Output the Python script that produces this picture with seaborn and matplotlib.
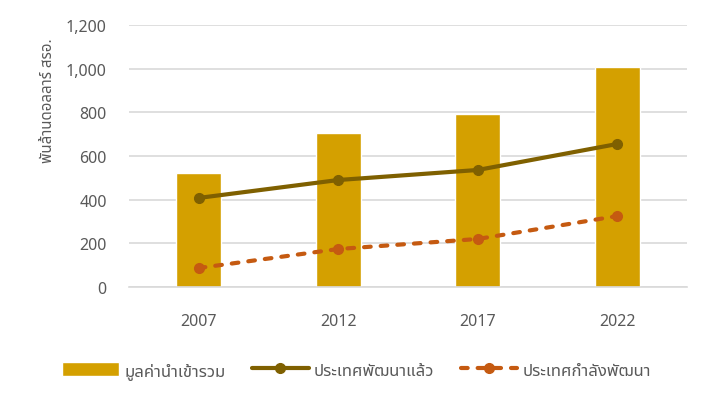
import numpy as np
import matplotlib
matplotlib.use("Agg")
import matplotlib.pyplot as plt
from matplotlib import font_manager
from matplotlib.ft2font import FT2Font
from matplotlib.patches import Patch
from matplotlib.lines import Line2D
import seaborn as sns

# data
years = ["2007", "2012", "2017", "2022"]
total_imports = [522, 705, 792, 1008]
developed = [408, 490, 536, 655]
developing = [87, 174, 220, 325]

label_total = "มูลค่านำเข้ารวม"
label_dev = "ประเทศพัฒนาแล้ว"
label_devg = "ประเทศกำลังพัฒนา"
y_label = "พันล้านดอลลาร์ สรอ."

BAR = "#D4A000"
DEV = "#7F6000"
DEVG = "#C55A11"
GRID = "#D9D9D9"
TXT = "#595959"
DASH = (0, (1.6, 2.4))


def find_thai_font():
    found = []
    for f in font_manager.fontManager.ttflist:
        try:
            cmap = FT2Font(f.fname).get_charmap()
        except Exception:
            continue
        if 0x0E21 in cmap and 0x0E33 in cmap:
            found.append(f.name)
    for pref in ["Noto Sans Thai", "Noto Sans", "DejaVu Sans", "Liberation Sans"]:
        if pref in found:
            return pref
    return found[0] if found else None


sns.set_theme(style="white")
thai = find_thai_font()
fams = ([thai] if thai else []) + ["DejaVu Sans"]
plt.rcParams["font.family"] = fams

fig = plt.figure(figsize=(7.09, 4.06), dpi=100)
ax = fig.add_axes([129 / 709, 0.2906, 558 / 709, 0.936 - 0.2906])

x = np.arange(len(years))
sns.barplot(x=years, y=total_imports, color=BAR, width=0.32, saturation=1, ax=ax, zorder=2)
ax.plot(x, developed, color=DEV, lw=3, marker="o", ms=7, zorder=3,
        solid_capstyle="round")
ax.plot(x, developing, color=DEVG, lw=3, ls=DASH, dash_capstyle="round",
        marker="o", ms=7, zorder=3)

ax.set_xlim(-0.5, 3.5)
ax.set_ylim(0, 1200)
ax.set_yticks(range(0, 1201, 200))
ax.set_yticklabels([f"{v:,}" for v in range(0, 1201, 200)])
ax.yaxis.grid(True, color=GRID, lw=1.2, zorder=0)
ax.set_axisbelow(True)
for s in ["top", "right", "left"]:
    ax.spines[s].set_visible(False)
ax.spines["bottom"].set_color(GRID)
ax.spines["bottom"].set_linewidth(1.2)
ax.tick_params(axis="both", length=0, labelsize=11.5, colors=TXT)
ax.tick_params(axis="x", pad=19)
ax.tick_params(axis="y", pad=16)
ax.set_ylabel(y_label, fontsize=10.8, color=TXT)
ax.yaxis.set_label_coords(-0.13, 0.715)

handles = [
    Patch(facecolor=BAR, label=label_total),
    Line2D([], [], color=DEV, lw=3, marker="o", ms=7, solid_capstyle="round",
           label=label_dev),
    Line2D([], [], color=DEVG, lw=3, ls=DASH, dash_capstyle="round", marker="o",
           ms=7, label=label_devg),
]
fig.legend(handles=handles, loc="lower center", bbox_to_anchor=(0.503, 0.028), ncol=3,
           frameon=False, fontsize=12, handlelength=3.4, handleheight=0.9,
           columnspacing=1.6, handletextpad=0.3, labelcolor=TXT)

fig.savefig("out.png", dpi=100, facecolor="white")
